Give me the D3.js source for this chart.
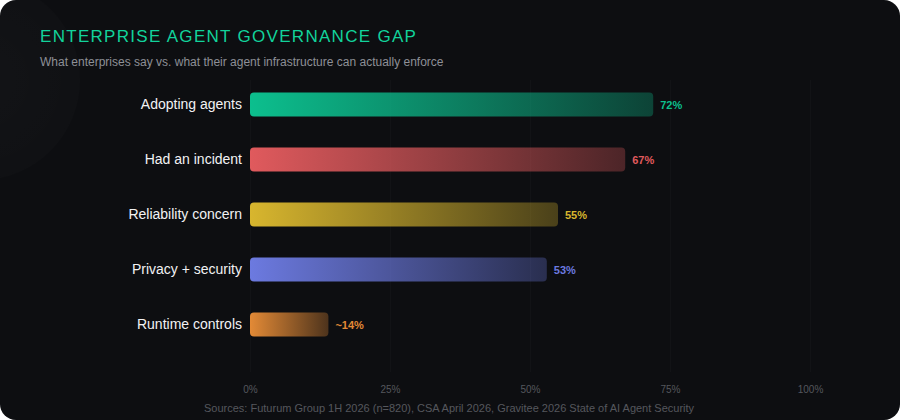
<!DOCTYPE html>
<html>
<head>
<meta charset="utf-8">
<script src="https://cdn.jsdelivr.net/npm/d3@7"></script>
<style>
  html, body { margin: 0; padding: 0; background: #ffffff; }
  svg { display: block; font-family: "Liberation Sans", Arial, Helvetica, sans-serif; }
</style>
</head>
<body>
<div id="chart"></div>
<script>
// chart data
var categories = ["Adopting agents", "Had an incident", "Reliability concern", "Privacy + security", "Runtime controls"];
var values = [72, 67, 55, 53, 14];
var valueLabels = ["72%", "67%", "55%", "53%", "~14%"];
var barColors = ["#0cbf8e", "#e05a5d", "#d8b62e", "#6c7ae0", "#e38a36"];
var tickValues = [0, 25, 50, 75, 100];

var width = 900, height = 420;

var svg = d3.select("#chart").append("svg")
    .attr("width", width)
    .attr("height", height);

var defs = svg.append("defs");

// background card
svg.append("rect")
    .attr("width", width).attr("height", height)
    .attr("rx", 16)
    .attr("fill", "#0d0e11");

// faint glow in upper left
var glow = defs.append("radialGradient").attr("id", "glow");
glow.append("stop").attr("offset", "0%").attr("stop-color", "#ffffff").attr("stop-opacity", 0.025);
glow.append("stop").attr("offset", "100%").attr("stop-color", "#ffffff").attr("stop-opacity", 0.012);
defs.append("clipPath").attr("id", "card")
    .append("rect").attr("width", width).attr("height", height).attr("rx", 16);
svg.append("circle")
    .attr("clip-path", "url(#card)")
    .attr("cx", -20).attr("cy", 80).attr("r", 100)
    .attr("fill", "url(#glow)");

// title + subtitle
svg.append("text")
    .attr("x", 40).attr("y", 42)
    .attr("fill", "#12d39b")
    .attr("font-size", 17)
    .attr("font-weight", 500)
    .attr("letter-spacing", 1.3)
    .text("ENTERPRISE AGENT GOVERNANCE GAP");

svg.append("text")
    .attr("x", 40).attr("y", 66)
    .attr("fill", "#8e9097")
    .attr("font-size", 12)
    .text("What enterprises say vs. what their agent infrastructure can actually enforce");

// scales
var x = d3.scaleLinear().domain([0, 100]).range([250, 810]);
var y = d3.scaleBand().domain(categories).range([77, 352]).paddingInner(0.56).paddingOuter(0.28);

// faint grid
svg.append("g").selectAll("line")
    .data(tickValues)
    .enter().append("line")
    .attr("x1", function (d) { return x(d) + 0.5; })
    .attr("x2", function (d) { return x(d) + 0.5; })
    .attr("y1", 80).attr("y2", 372)
    .attr("stroke", "#ffffff")
    .attr("stroke-opacity", 0.025);

// bar gradients
categories.forEach(function (c, i) {
    var g = defs.append("linearGradient").attr("id", "grad" + i)
        .attr("x1", "0%").attr("x2", "100%");
    g.append("stop").attr("offset", "0%").attr("stop-color", barColors[i]).attr("stop-opacity", 1);
    g.append("stop").attr("offset", "100%").attr("stop-color", barColors[i]).attr("stop-opacity", 0.3);
});

var rows = svg.append("g").selectAll(".row")
    .data(categories)
    .enter().append("g").attr("class", "row");

rows.append("rect")
    .attr("x", x(0))
    .attr("y", function (d) { return y(d); })
    .attr("width", function (d, i) { return x(values[i]) - x(0); })
    .attr("height", y.bandwidth())
    .attr("rx", 4)
    .attr("fill", function (d, i) { return "url(#grad" + i + ")"; });

rows.append("text")
    .attr("x", x(0) - 8)
    .attr("y", function (d) { return y(d) + y.bandwidth() / 2; })
    .attr("dy", "0.35em")
    .attr("text-anchor", "end")
    .attr("fill", "#f2f2f4")
    .attr("font-size", 14)
    .attr("font-weight", 500)
    .text(function (d) { return d; });

rows.append("text")
    .attr("x", function (d, i) { return x(values[i]) + 7; })
    .attr("y", function (d) { return y(d) + y.bandwidth() / 2 + 1; })
    .attr("dy", "0.35em")
    .attr("fill", function (d, i) { return barColors[i]; })
    .attr("font-size", 11)
    .attr("font-weight", 600)
    .text(function (d, i) { return valueLabels[i]; });

// x axis (labels only)
var axis = svg.append("g")
    .attr("transform", "translate(0,383)")
    .call(d3.axisBottom(x).tickValues(tickValues).tickSize(0).tickFormat(function (d) { return d + "%"; }));
axis.select(".domain").remove();
axis.selectAll("text")
    .attr("fill", "#55575d")
    .attr("font-size", 10)
    .attr("font-family", "Liberation Sans, Arial, sans-serif");

svg.append("text")
    .attr("x", 204).attr("y", 412)
    .attr("fill", "#55575d")
    .attr("font-size", 11)
    .text("Sources: Futurum Group 1H 2026 (n=820), CSA April 2026, Gravitee 2026 State of AI Agent Security");
</script>
</body>
</html>
